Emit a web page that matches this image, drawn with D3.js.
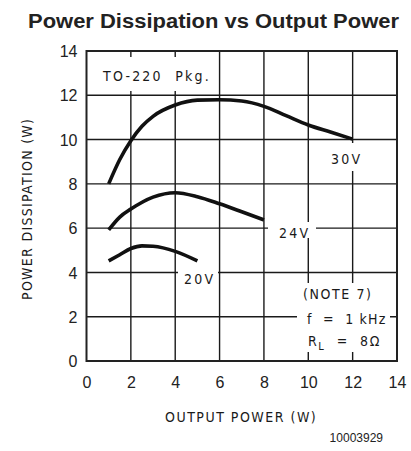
<!DOCTYPE html>
<html>
<head>
<meta charset="utf-8">
<script src="https://cdn.jsdelivr.net/npm/d3@7/dist/d3.min.js"></script>
<style>
  html, body { margin: 0; padding: 0; background: #fff; }
  svg { display: block; }
  .tick-label { font-family: "Liberation Sans Narrow", "Arial Narrow", "Liberation Sans", Arial, sans-serif; font-size: 16px; fill: #222; }
  .cad { font-family: "DejaVu Sans Condensed", "DejaVu Sans", sans-serif; font-size: 14px; fill: #1a1a1a; letter-spacing: 1.3px; }
</style>
</head>
<body>
<script>
// Output power (W) sample points and dissipation (W) for each supply voltage
const out30 = [1, 1.5, 2, 2.5, 3, 4, 5, 6, 7, 8, 9, 10, 11, 12];
const pd30  = [8.0, 9.1, 9.95, 10.6, 11.05, 11.56, 11.78, 11.8, 11.74, 11.5, 11.08, 10.66, 10.34, 10.02];
const out24 = [1, 1.5, 2, 3, 4, 5, 6, 7, 8];
const pd24  = [5.92, 6.5, 6.86, 7.4, 7.6, 7.42, 7.1, 6.74, 6.37];
const out20 = [1, 1.5, 2, 2.5, 3, 4, 5];
const pd20  = [4.52, 4.8, 5.08, 5.2, 5.18, 4.95, 4.52];
const curveLabels = ["30V", "24V", "20V"];

const xTicks = [0, 2, 4, 6, 8, 10, 12, 14];
const yTicks = [0, 2, 4, 6, 8, 10, 12, 14];

const W = 411, H = 451;
const svg = d3.select("body").append("svg").attr("width", W).attr("height", H);

const x = d3.scaleLinear().domain([0, 14]).range([86.5, 397]);
const y = d3.scaleLinear().domain([0, 14]).range([361, 51]);

// Title
svg.append("text")
  .attr("x", 28).attr("y", 28)
  .attr("textLength", 371)
  .attr("lengthAdjust", "spacingAndGlyphs")
  .style("font-family", "'Liberation Sans', Arial, Helvetica, sans-serif")
  .style("font-weight", "bold")
  .style("font-size", "20px")
  .style("fill", "#222")
  .text("Power Dissipation vs Output Power");

// Interior grid lines
const grid = svg.append("g").attr("stroke", "#1a1a1a").attr("stroke-width", 1.4);
xTicks.slice(1, -1).forEach(t => {
  grid.append("line").attr("x1", x(t)).attr("x2", x(t)).attr("y1", y(0)).attr("y2", y(14));
});
yTicks.slice(1, -1).forEach(t => {
  grid.append("line").attr("y1", y(t)).attr("y2", y(t)).attr("x1", x(0)).attr("x2", x(14));
});

// Axes (labels only; frame drawn separately)
const xAxis = d3.axisBottom(x).tickValues(xTicks).tickSize(0).tickPadding(0);
const yAxis = d3.axisLeft(y).tickValues(yTicks).tickSize(0).tickPadding(0);
const gx = svg.append("g").attr("transform", `translate(0,${y(0)})`).call(xAxis);
const gy = svg.append("g").attr("transform", `translate(${x(0)},0)`).call(yAxis);
[gx, gy].forEach(g => {
  g.select(".domain").remove();
  g.selectAll("text").attr("class", "tick-label").attr("fill", null);
});
gx.selectAll("text").attr("y", 27).attr("dy", null);
gy.selectAll("text").attr("x", -9).attr("dy", "0.35em");

// White masks that break the grid behind the annotations
const notes = svg.append("g");
function mask(x0, y0, x1, y1) {
  notes.append("rect").attr("x", x0).attr("y", y0).attr("width", x1 - x0).attr("height", y1 - y0).attr("fill", "#fff");
}
mask(99, 57, 211, 91);           // TO-220 Pkg.
mask(326, 143, 364, 171);        // 30V
mask(268, 222, 316, 238);        // 24V
mask(178, 268, 218, 289);        // 20V
mask(297, 283, 390, 352);        // note block

function cad(tx, ty, str, anchor, spacing) {
  const t = svg.append("text").attr("class", "cad")
    .attr("x", tx).attr("y", ty)
    .attr("text-anchor", anchor || "start")
    .attr("xml:space", "preserve")
    .style("white-space", "pre")
    .text(str);
  if (spacing != null) t.style("letter-spacing", spacing + "px");
  return t;
}

// Curves
const line = d3.line().x(d => x(d[0])).y(d => y(d[1])).curve(d3.curveMonotoneX);
const series = [d3.zip(out30, pd30), d3.zip(out24, pd24), d3.zip(out20, pd20)];
svg.append("g").selectAll("path").data(series).join("path")
  .attr("d", line)
  .attr("fill", "none")
  .attr("stroke", "#111")
  .attr("stroke-width", 3.6)
  .attr("stroke-linecap", "butt")
  .attr("stroke-linejoin", "round");

// Frame
svg.append("rect")
  .attr("x", x(0)).attr("y", y(14))
  .attr("width", x(14) - x(0)).attr("height", y(0) - y(14))
  .attr("fill", "none").attr("stroke", "#222").attr("stroke-width", 2);

cad(103, 81, "TO-220  Pkg.", "start", 2.2);
cad(331, 164, curveLabels[0], "start", 2.2);
cad(279, 238, curveLabels[1], "start", 2.2);
cad(184, 284, curveLabels[2], "start", 2.2);
cad(303, 299, "(NOTE 7)", "start", 1.6);
cad(307, 324, "f  =  1 kHz", "start", 1.2);
const rl = cad(308, 346, "R", "start", 1.6);
rl.append("tspan").attr("baseline-shift", "-35%").style("font-size", "11px").text("L");
rl.append("tspan").text("  =  8\u03A9");

// Axis titles
cad(165, 422, "OUTPUT POWER (W)", "start", 1.5);
svg.append("text").attr("class", "cad")
  .attr("transform", `translate(32,300) rotate(-90)`)
  .style("letter-spacing", "1.3px")
  .text("POWER DISSIPATION (W)");

// Figure number
svg.append("text")
  .attr("x", 383).attr("y", 442)
  .attr("text-anchor", "end")
  .style("font-family", "'Liberation Sans', Arial, sans-serif")
  .style("font-size", "12px")
  .style("fill", "#222")
  .text("10003929");
</script>
</body>
</html>
